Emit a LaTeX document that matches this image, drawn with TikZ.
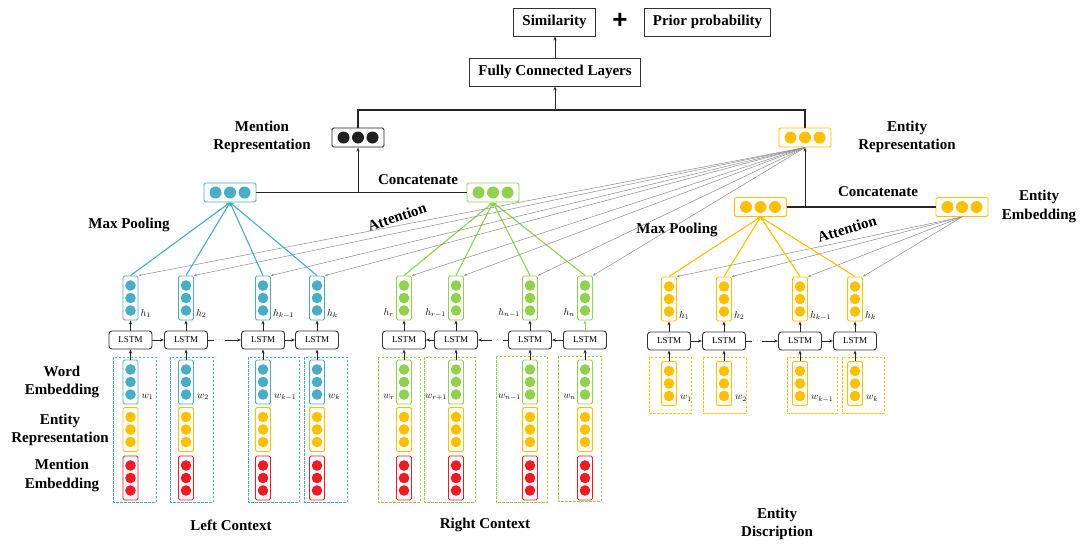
\documentclass[tikz,border=0pt]{standalone}
\usepackage{fontspec}
\setmainfont{Liberation Serif}
\newfontfamily\plusfont{Liberation Sans}
\usetikzlibrary{arrows.meta}
\definecolor{ctxblue}{RGB}{75,172,198}
\definecolor{ctxgreen}{RGB}{146,208,80}
\definecolor{entyellow}{RGB}{255,192,0}
\definecolor{menred}{RGB}{237,28,36}
\definecolor{vecblack}{RGB}{35,31,32}
\tikzset{
    vec-col/.style = {draw=#1, fill=white, line width=0.9pt, rounded corners=1.5pt, minimum width=15pt, minimum height=44pt, inner sep=0pt,
        path picture={\foreach \k in {-1,0,1} \fill[#1] ([yshift=\k*12.5pt]path picture bounding box.center) circle (5.3pt);}},
    vec-row/.style = {draw=#1, fill=white, line width=0.9pt, rounded corners=1.5pt, minimum width=52pt, minimum height=19pt, inner sep=0pt,
        path picture={\foreach \k in {-1,0,1} \fill[#1] ([xshift=\k*14.5pt]path picture bounding box.center) circle (6pt);}},
    lstm-box/.style = {draw=black!80, fill=white, line width=0.9pt, rounded corners=3pt, minimum width=43pt, minimum height=18pt, inner sep=0pt, font=\fontsize{9}{9}\selectfont},
    text-box/.style = {draw=black!80, line width=0.9pt, minimum height=28pt, inner xsep=8.5pt, font=\bfseries\fontsize{15}{18}\selectfont},
    title/.style = {align=center, font=\bfseries\fontsize{15}{18.5}\selectfont},
    sub-label/.style = {inner sep=0pt, font=\fontsize{10}{10}\selectfont},
    ctx-frame/.style = {draw=#1, line width=1pt, dash pattern=on 2.5pt off 1.5pt},
    step-arrow/.style = {draw=black!85, line width=0.9pt, -{Stealth[length=4pt,width=3pt]}},
    join-line/.style = {draw=black!85, line width=1.1pt},
    pool-arrow/.style = {draw=#1, line width=1.1pt, -{Stealth[length=4pt,width=3.5pt]}},
    att-arrow/.style = {draw=black!45, line width=0.5pt, -{Stealth[length=3pt,width=2.5pt]}},
}
\begin{document}
\begin{tikzpicture}[x=1pt, y=-1pt]
\useasboundingbox (0,0) rectangle (1082,544);

% top of the network
\node [text-box] (sim) at (554.5,22) {Similarity};
\node [font=\plusfont\bfseries\fontsize{26}{26}\selectfont] (plus) at (620,21) {+};
\node [text-box] (prior) at (707.5,22) {Prior probability};
\node [text-box] (fc) at (555,72) {Fully Connected Layers};
\node [vec-row=vecblack] (mention-rep) at (358,137.5) {};
\node [vec-row=entyellow] (entity-rep) at (805,137.5) {};
\node [vec-row=ctxblue] (pool-left) at (230,192.5) {};
\node [vec-row=ctxgreen] (pool-right) at (493,192.5) {};
\node [vec-row=entyellow] (pool-entity) at (760.5,207) {};
\node [vec-row=entyellow] (entity-emb) at (962,207) {};
\coordinate (join) at (555,110);

\node [title] at (262,137) {Mention\\Representation};
\node [title] at (907,137) {Entity\\Representation};
\node [title] at (418,180) {Concatenate};
\node [title] at (878,192) {Concatenate};
\node [title] at (1039,206.5) {Entity\\Embedding};
\node [title] at (129,225) {Max Pooling};
\node [title] at (677,230) {Max Pooling};
\node [title, rotate=19] at (397,217) {Attention};
\node [title, rotate=17] at (847,229) {Attention};
\node [title] at (62,382) {Word\\Embedding};
\node [title] at (60,430) {Entity\\Representation};
\node [title] at (62,475.5) {Mention\\Embedding};
\node [title] at (231,525) {Left Context};
\node [title] at (485,525) {Right Context};
\node [title] at (777,524) {Entity\\Discription};

% left context
\foreach \xl/\xr in {113/156, 170/213, 248/299, 304/347}
    \draw [ctx-frame=ctxblue] (\xl,357) rectangle (\xr,502);
\foreach \i/\x/\h/\w in {1/130.5/h_1/w_1, 2/186/h_2/w_2, 3/263/h_{k-1}/w_{k-1}, 4/317/h_k/w_k} {
    \node [vec-col=ctxblue] (lh\i) at (\x,298) {};
    \node [lstm-box] (ll\i) at (\x,340) {LSTM};
    \node [vec-col=ctxblue] (lw\i) at (\x,382) {};
    \node [vec-col=entyellow] (le\i) at (\x,429.5) {};
    \node [vec-col=menred] (lm\i) at (\x,478) {};
    \node [sub-label, anchor=base west] at ([xshift=2pt,yshift=4pt]lh\i.south east) {$\h$};
    \node [sub-label, anchor=base west] at ([xshift=3pt,yshift=6pt]lw\i.south east) {$\w$};
    \draw [step-arrow] (lw\i.north) -- (ll\i.south);
    \draw [step-arrow] (ll\i.north) -- (lh\i.south);
    \draw [pool-arrow=ctxblue] (lh\i.north) -- (pool-left.south);
}
\draw [step-arrow] (ll1) -- (ll2);
\draw [step-arrow] (ll2) -- node [pos=0.35, fill=white, inner sep=0.5pt, font=\tiny] {$\cdots$} (ll3);
\draw [step-arrow] (ll3) -- (ll4);

% right context
\draw [ctx-frame=ctxgreen] (378,357) rectangle (420,502);
\draw [ctx-frame=ctxgreen] (424,357) rectangle (475,502);
\draw [ctx-frame=ctxgreen] (496,356) rectangle (547,502);
\draw [ctx-frame=ctxgreen] (558,356) rectangle (601,501);
\foreach \i/\x/\h/\w in {1/404/h_r/w_r, 2/456/h_{r-1}/w_{r+1}, 3/530/h_{n-1}/w_{n-1}, 4/585/h_n/w_n} {
    \node [vec-col=ctxgreen] (rh\i) at (\x,298) {};
    \node [lstm-box] (rl\i) at (\x,340) {LSTM};
    \node [vec-col=ctxgreen] (rw\i) at (\x,382) {};
    \node [vec-col=entyellow] (re\i) at (\x,429.5) {};
    \node [vec-col=menred] (rm\i) at (\x,478) {};
    \node [sub-label, anchor=base east] at ([xshift=-2pt,yshift=5pt]rh\i.south west) {$\h$};
    \node [sub-label, anchor=base east] at ([xshift=-1pt,yshift=6pt]rw\i.south west) {$\w$};
    \draw [step-arrow] (rw\i.north) -- (rl\i.south);
    \draw [pool-arrow=ctxgreen] (rh\i.north) -- (pool-right.south);
}
\foreach \i in {1,2,3}
    \draw [step-arrow] (rl\i.north) -- (rh\i.south);
\draw [step-arrow, draw=ctxgreen] (rl4.north) -- (rh4.south);
\draw [step-arrow] (rl4) -- (rl3);
\draw [step-arrow] (rl3) -- node [pos=0.35, fill=white, inner sep=0.5pt, font=\tiny] {$\cdots$} (rl2);
\draw [step-arrow] (rl2) -- (rl1);

% entity description
\foreach \xl/\xr in {649/691, 703/746, 787/837, 842/884}
    \draw [ctx-frame=entyellow] (\xl,357) rectangle (\xr,413);
\foreach \i/\x/\h/\w in {1/669/h_1/w_1, 2/724/h_2/w_2, 3/800/h_{k-1}/w_{k-1}, 4/855/h_k/w_k} {
    \node [vec-col=entyellow] (eh\i) at (\x,299) {};
    \node [lstm-box] (el\i) at (\x,341) {LSTM};
    \node [vec-col=entyellow] (ew\i) at (\x,383.5) {};
    \node [sub-label, anchor=base west] at ([xshift=2pt,yshift=3pt]eh\i.south east) {$\h$};
    \node [sub-label, anchor=base west] at ([xshift=3pt,yshift=6pt]ew\i.south east) {$\w$};
    \draw [step-arrow] (ew\i.north) -- (el\i.south);
    \draw [step-arrow] (el\i.north) -- (eh\i.south);
    \draw [pool-arrow=entyellow] (eh\i.north) -- (pool-entity.south);
    \draw [att-arrow] (entity-emb.south) -- (eh\i.north east);
}
\draw [step-arrow] (el1) -- (el2);
\draw [step-arrow] (el2) -- node [pos=0.35, fill=white, inner sep=0.5pt, font=\tiny] {$\cdots$} (el3);
\draw [step-arrow] (el3) -- (el4);

% attention from the entity representation
\foreach \n in {lh1,lh2,lh3,lh4,rh1,rh2,rh3,rh4}
    \draw [att-arrow] (entity-rep.south) -- (\n.north east);

% joining lines
\draw [join-line] (pool-left.east) -- (pool-right.west);
\draw [step-arrow] (pool-left.east -| mention-rep.south) -- (mention-rep.south);
\draw [join-line] (pool-entity.east) -- (entity-emb.west);
\draw [step-arrow] (pool-entity.east -| entity-rep.south) -- (entity-rep.south);
\draw [join-line] (mention-rep.north) |- (join) -| (entity-rep.north);
\draw [step-arrow] (join) -- (fc.south);
\draw [step-arrow] (fc.north) -- (fc.north |- sim.south);
\end{tikzpicture}
\end{document}
